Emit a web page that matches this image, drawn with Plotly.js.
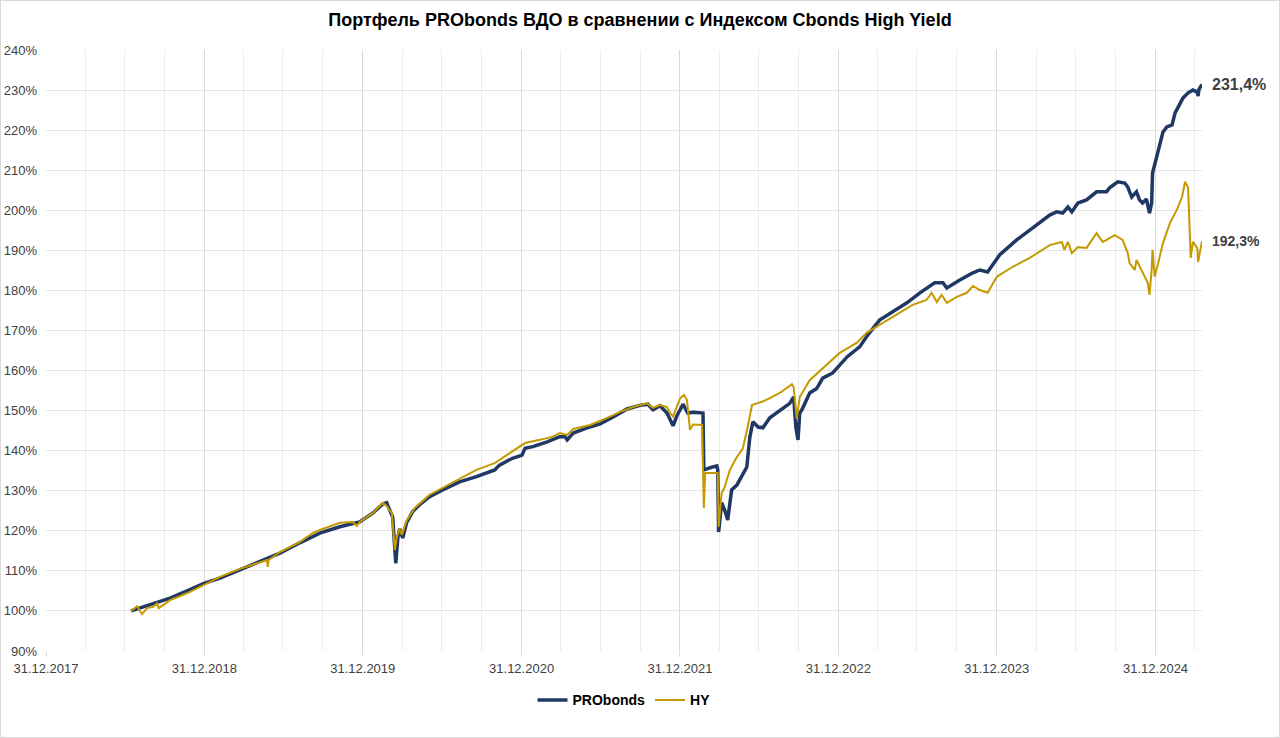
<!DOCTYPE html>
<html>
<head>
<meta charset="utf-8">
<script src="https://cdn.plot.ly/plotly-3.0.1.min.js"></script>
<style>
  html, body { margin: 0; padding: 0; background: #fff; }
  #chart { width: 1278px; height: 736px; border: 1px solid #d9d9d9; }
</style>
</head>
<body>
<div id="chart"></div>
<script>
// PRObonds portfolio, % of start value
const proDates = [
  '2018-07-15', '2018-08-05', '2018-09-04', '2018-10-13', '2018-11-21', '2018-12-30',
  '2019-02-05', '2019-03-23', '2019-05-08', '2019-06-23', '2019-08-08', '2019-09-23',
  '2019-11-08', '2019-12-24', '2020-01-23', '2020-02-15', '2020-02-24', '2020-02-29',
  '2020-03-09', '2020-03-16', '2020-03-21', '2020-03-25', '2020-04-01', '2020-04-10',
  '2020-04-24', '2020-05-10', '2020-06-02', '2020-07-02', '2020-08-10', '2020-09-18',
  '2020-10-30', '2020-11-10', '2020-12-10', '2021-01-01', '2021-01-08', '2021-01-26',
  '2021-02-28', '2021-03-29', '2021-04-10', '2021-04-15', '2021-04-29', '2021-05-31',
  '2021-06-30', '2021-07-30', '2021-08-31', '2021-09-30', '2021-10-18', '2021-10-30',
  '2021-11-15', '2021-12-01', '2021-12-15', '2021-12-24', '2022-01-07', '2022-01-18',
  '2022-01-30', '2022-02-22', '2022-02-24', '2022-03-12', '2022-03-26', '2022-03-28',
  '2022-03-30', '2022-04-06', '2022-04-13', '2022-04-20', '2022-04-29', '2022-05-11',
  '2022-05-25', '2022-06-03', '2022-06-10', '2022-06-17', '2022-06-29', '2022-07-10',
  '2022-07-26', '2022-08-18', '2022-09-10', '2022-09-19', '2022-09-24', '2022-09-29',
  '2022-10-03', '2022-10-08', '2022-10-19', '2022-10-26', '2022-11-11', '2022-11-25',
  '2022-12-18', '2022-12-30', '2023-01-20', '2023-02-18', '2023-03-09', '2023-04-05',
  '2023-05-05', '2023-06-07', '2023-07-07', '2023-08-10', '2023-08-29', '2023-09-07',
  '2023-10-07', '2023-11-06', '2023-11-22', '2023-12-10', '2024-01-07', '2024-02-15',
  '2024-03-23', '2024-05-01', '2024-05-17', '2024-05-31', '2024-06-12', '2024-06-21',
  '2024-07-05', '2024-07-25', '2024-08-17', '2024-09-09', '2024-09-16', '2024-10-05',
  '2024-10-21', '2024-10-28', '2024-11-06', '2024-11-17', '2024-11-24', '2024-12-01',
  '2024-12-10', '2024-12-17', '2024-12-22', '2024-12-24', '2025-01-03', '2025-01-17',
  '2025-01-26', '2025-02-07', '2025-02-14', '2025-02-25', '2025-03-04', '2025-03-16',
  '2025-03-27', '2025-04-06', '2025-04-08', '2025-04-10', '2025-04-17'
]
const proValues = [
  100, 100.7, 101.9, 103.2, 105, 106.9,
  108.2, 110.2, 112.2, 114.4, 117, 119.4,
  121, 122.2, 124.4, 126.7, 127, 125.7,
  123.4, 111.9, 118.4, 120.5, 118.2, 122,
  124.8, 126.5, 128.5, 130.2, 132.2, 133.5,
  135.2, 136.4, 138.1, 138.9, 140.6, 141,
  142.2, 143.5, 143.5, 142.7, 144.4, 145.7,
  146.7, 148.4, 150.4, 151.3, 151.6, 150.2,
  151.2, 149.4, 146.2, 148.7, 151.6, 149.4,
  149.6, 149.4, 135.2, 135.8, 136.2, 135.2,
  119.7, 127, 125.2, 122.7, 130.2, 131.4,
  133.9, 135.9, 143.4, 147.2, 145.9, 145.7,
  148.2, 150, 151.8, 153.4, 145.9, 142.7,
  149.4, 150.2, 152.7, 154.4, 155.5, 158.1,
  159.4, 160.8, 163.4, 165.9, 168.9, 172.6,
  174.6, 176.9, 179.4, 181.9, 181.9, 180.6,
  182.6, 184.4, 185.1, 184.6, 188.9, 192.6,
  195.6, 198.8, 199.6, 199.3, 200.8, 199.6,
  201.8, 202.6, 204.6, 204.6, 205.6, 207.1,
  206.8, 205.8, 203.3, 204.6, 202.6, 201.8,
  202.8, 199.3, 201.8, 209.3, 213.5, 219.5,
  220.8, 221.3, 224.3, 226.8, 228, 229.3,
  230, 229.5, 228.5, 230.2, 231.4
]

// Cbonds High Yield index, % of start value
const hyDates = [
  '2018-07-15', '2018-07-29', '2018-08-09', '2018-08-21', '2018-09-04', '2018-09-13',
  '2018-09-17', '2018-10-13', '2018-11-21', '2018-12-21', '2018-12-30', '2019-02-05',
  '2019-03-23', '2019-05-08', '2019-05-24', '2019-05-26', '2019-05-28', '2019-06-23',
  '2019-08-08', '2019-09-07', '2019-09-23', '2019-11-08', '2019-12-08', '2019-12-17',
  '2019-12-24', '2020-01-23', '2020-02-15', '2020-02-24', '2020-03-07', '2020-03-14',
  '2020-03-18', '2020-03-25', '2020-03-30', '2020-04-10', '2020-04-29', '2020-06-02',
  '2020-07-02', '2020-08-10', '2020-09-18', '2020-10-30', '2020-11-10', '2020-12-10',
  '2021-01-08', '2021-02-11', '2021-03-13', '2021-03-29', '2021-04-15', '2021-04-29',
  '2021-06-07', '2021-07-16', '2021-08-15', '2021-09-14', '2021-10-16', '2021-10-30',
  '2021-11-15', '2021-12-01', '2021-12-08', '2021-12-15', '2021-12-31', '2022-01-09',
  '2022-01-16', '2022-01-23', '2022-01-30', '2022-02-20', '2022-02-22', '2022-02-24',
  '2022-02-27', '2022-03-28', '2022-03-30', '2022-04-06', '2022-04-13', '2022-04-25',
  '2022-05-11', '2022-05-25', '2022-06-05', '2022-06-15', '2022-06-26', '2022-07-08',
  '2022-07-26', '2022-08-18', '2022-09-15', '2022-09-19', '2022-09-26', '2022-10-03',
  '2022-10-26', '2022-11-25', '2023-01-03', '2023-02-11', '2023-03-06', '2023-04-05',
  '2023-05-14', '2023-06-20', '2023-07-22', '2023-08-03', '2023-08-15', '2023-08-26',
  '2023-09-07', '2023-09-30', '2023-10-23', '2023-11-06', '2023-11-22', '2023-12-10',
  '2023-12-31', '2024-02-06', '2024-03-16', '2024-05-01', '2024-05-29', '2024-06-04',
  '2024-06-12', '2024-06-21', '2024-07-05', '2024-07-25', '2024-08-17', '2024-08-31',
  '2024-09-09', '2024-09-28', '2024-10-16', '2024-10-28', '2024-11-01', '2024-11-13',
  '2024-11-17', '2024-12-01', '2024-12-13', '2024-12-17', '2024-12-22', '2024-12-24',
  '2024-12-29', '2025-01-06', '2025-01-17', '2025-02-02', '2025-02-18', '2025-03-02',
  '2025-03-09', '2025-03-16', '2025-03-20', '2025-03-22', '2025-03-27', '2025-04-06',
  '2025-04-08', '2025-04-17'
]
const hyValues = [
  100, 101.2, 99.2, 100.7, 101, 101.9,
  100.7, 102.7, 104.4, 106, 106.5, 108.5,
  110.5, 112.2, 112.7, 111, 112.7, 114.7,
  117.2, 119.5, 120.2, 122, 122.2, 121.2,
  122.2, 124.4, 127, 126.2, 124.4, 115.2,
  118.2, 120.5, 119, 122.5, 125.7, 129,
  130.7, 132.9, 135.2, 136.9, 137.7, 139.7,
  141.9, 142.7, 143.5, 144.4, 143.9, 145.4,
  146.4, 148.2, 149.7, 150.9, 151.8, 150.7,
  151.4, 150.9, 149.4, 148.5, 153, 153.9,
  152.7, 145.2, 146.5, 146.4, 134.4, 125.7,
  134.4, 134.4, 121, 129.4, 130.9, 135.2,
  138.4, 140.6, 145.9, 151.4, 151.8, 152.2,
  153.1, 154.4, 156.6, 155.9, 148, 153.4,
  157.6, 160.6, 164.4, 166.9, 169.4, 171.4,
  173.9, 176.4, 177.6, 179.4, 177.1, 178.9,
  176.9, 178.4, 179.4, 181.1, 180.1, 179.4,
  183.4, 185.9, 188.1, 191.3, 192.1, 190.1,
  192.1, 189.3, 190.8, 190.6, 194.3, 192.1,
  192.6, 193.8, 192.6, 189.3, 186.8, 185.1,
  187.6, 184.4, 181.9, 178.9, 185.1, 190.1,
  183.4, 186.8, 191.8, 196.8, 200.1, 203.3,
  207.1, 205.6, 196, 188.1, 192.1, 190.6,
  187.1, 192.3
]

// axis ticks
const yearTicks = ['2017-12-31', '2018-12-31', '2019-12-31', '2020-12-31',
  '2021-12-31', '2022-12-31', '2023-12-31', '2024-12-31']
const yearLabels = ['31.12.2017', '31.12.2018', '31.12.2019', '31.12.2020',
  '31.12.2021', '31.12.2022', '31.12.2023', '31.12.2024']
const quarterTicks = [
  '2018-03-31', '2018-06-30', '2018-09-30', '2019-03-31', '2019-06-30', '2019-09-30',
  '2020-03-31', '2020-06-30', '2020-09-30', '2021-03-31', '2021-06-30', '2021-09-30',
  '2022-03-31', '2022-06-30', '2022-09-30', '2023-03-31', '2023-06-30', '2023-09-30',
  '2024-03-31', '2024-06-30', '2024-09-30', '2025-03-31'
]
const lastLabels = ['231,4%', '192,3%']

const blue = '#1f3864'
const gold = '#c49a00'
const font = 'Liberation Sans, Arial, sans-serif'

const data = [{
  x: proDates,
  y: proValues,
  type: 'scatter',
  mode: 'lines',
  name: 'PRObonds',
  line: { color: blue, width: 3.5 }
}, {
  x: hyDates,
  y: hyValues,
  type: 'scatter',
  mode: 'lines',
  name: 'HY',
  line: { color: gold, width: 2 }
}]

const layout = {
  width: 1278,
  height: 736,
  margin: { l: 45, r: 77, t: 49, b: 86 },
  paper_bgcolor: '#fff',
  plot_bgcolor: '#fff',
  font: { family: font, size: 13, color: '#404040' },
  title: {
    text: 'Портфель PRObonds ВДО в сравнении с Индексом Cbonds High Yield',
    font: { family: font, size: 18, weight: 'bold', color: '#000' },
    x: 0.5,
    xanchor: 'center',
    yref: 'container',
    y: 0.974,
    yanchor: 'middle'
  },
  xaxis: {
    type: 'date',
    range: ['2017-12-31', '2025-04-17'],
    tickmode: 'array',
    tickvals: yearTicks,
    ticktext: yearLabels,
    ticks: 'outside',
    ticklen: 5,
    tickcolor: '#d9d9d9',
    showgrid: true,
    gridcolor: '#d9d9d9',
    gridwidth: 1,
    minor: {
      tickmode: 'array',
      tickvals: quarterTicks,
      showgrid: true,
      gridcolor: '#ececec',
      gridwidth: 1,
      ticks: ''
    },
    showline: false,
    zeroline: false,
    tickfont: { family: font, size: 13, color: '#404040' }
  },
  yaxis: {
    range: [90, 240],
    dtick: 10,
    tick0: 90,
    ticksuffix: '%',
    showgrid: true,
    gridcolor: '#e4e4e4',
    gridwidth: 1,
    zeroline: false,
    showline: false,
    ticks: '',
    ticklabelstandoff: 8,
    tickfont: { family: font, size: 13, color: '#404040' }
  },
  showlegend: true,
  legend: {
    orientation: 'h',
    x: 0.5,
    xanchor: 'center',
    y: -0.082,
    yanchor: 'middle',
    itemwidth: 30,
    font: { family: font, size: 14, weight: 'bold', color: '#000' }
  },
  annotations: [{
    x: proDates[proDates.length - 1],
    y: proValues[proValues.length - 1],
    text: lastLabels[0],
    showarrow: false,
    xanchor: 'left',
    xshift: 8,
    font: { family: font, size: 16, weight: 'bold', color: '#404040' }
  }, {
    x: hyDates[hyDates.length - 1],
    y: hyValues[hyValues.length - 1],
    text: lastLabels[1],
    showarrow: false,
    xanchor: 'left',
    xshift: 8,
    font: { family: font, size: 14, weight: 'bold', color: '#404040' }
  }]
}

Plotly.newPlot('chart', data, layout, { displayModeBar: false, staticPlot: true })
</script>
</body>
</html>
